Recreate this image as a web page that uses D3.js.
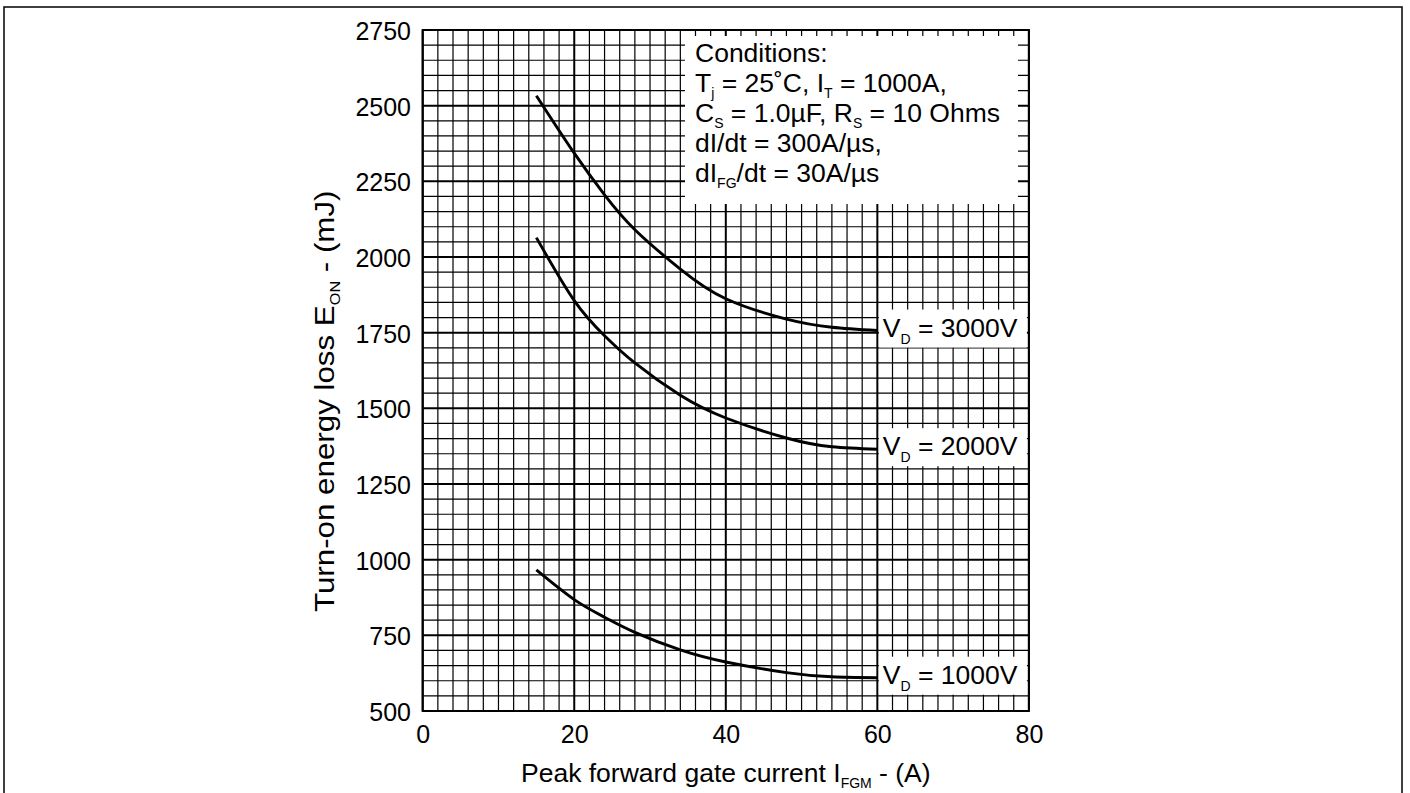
<!DOCTYPE html>
<html>
<head>
<meta charset="utf-8">
<script src="https://cdn.jsdelivr.net/npm/d3@7"></script>
<style>
  html, body { margin: 0; padding: 0; background: #fff; }
  svg { display: block; }
  text { font-family: "Liberation Sans", Arial, Helvetica, sans-serif; fill: #000; }
</style>
</head>
<body>
<svg id="chart" width="1410" height="793"></svg>
<script>
// ---- data ----
const gateCurrent = [15, 20, 24, 28, 34, 40, 48, 54, 60];
const eon3000 = [2533, 2343, 2205, 2090, 1960, 1862, 1795, 1768, 1757];
const eon2000 = [2064, 1856, 1740, 1650, 1543, 1468, 1402, 1373, 1365];
const eon1000 = [966, 868, 810, 760, 702, 662, 627, 613, 610];
const seriesNames = ["3000V", "2000V", "1000V"];
const xTickLabels = [0, 20, 40, 60, 80];
const yTickLabels = [500, 750, 1000, 1250, 1500, 1750, 2000, 2250, 2500, 2750];

const svg = d3.select("#chart");
const L = 422.7, R = 1028.9, T = 30, B = 711;
const x = d3.scaleLinear().domain([0, 80]).range([L, R]);
const y = d3.scaleLinear().domain([500, 2750]).range([B, T]);

// outer frame
svg.append("rect").attr("x", 4).attr("y", 7).attr("width", 1398).attr("height", 800)
  .attr("fill", "none").attr("stroke", "#000").attr("stroke-width", 1.5);

// grid
const g = svg.append("g");
const xMinor = d3.range(0, 80.001, 2);
const yMinor = d3.range(500, 2750.001, 50);
g.selectAll("line.vx").data(xMinor).join("line")
  .attr("x1", d => x(d)).attr("x2", d => x(d)).attr("y1", T).attr("y2", B)
  .attr("stroke", "#000").attr("stroke-width", d => d % 20 === 0 ? 2 : 1.2);
g.selectAll("line.hy").data(yMinor).join("line")
  .attr("x1", L).attr("x2", R).attr("y1", d => y(d)).attr("y2", d => y(d))
  .attr("stroke", "#000").attr("stroke-width", d => d % 250 === 0 ? 2 : 1.2);
svg.append("rect").attr("x", L).attr("y", T).attr("width", R - L).attr("height", B - T)
  .attr("fill", "none").attr("stroke", "#000").attr("stroke-width", 2);

// axes tick labels via d3 axes
const tickFs = 25;
const xAxis = d3.axisBottom(x).tickValues(xTickLabels).tickSize(0).tickPadding(0).tickFormat(d3.format("d"));
const yAxis = d3.axisLeft(y).tickValues(yTickLabels).tickSize(0).tickPadding(0).tickFormat(d3.format("d"));
const gx = svg.append("g").attr("transform", `translate(0,${B})`).call(xAxis);
gx.select(".domain").remove();
gx.attr("font-size", tickFs).attr("font-family", null);
gx.selectAll("text").attr("font-size", tickFs).attr("y", 0).attr("dy", 32);
const gy = svg.append("g").attr("transform", `translate(411,0)`).call(yAxis);
gy.select(".domain").remove();
gy.attr("font-size", tickFs).attr("font-family", null);
gy.selectAll("text").attr("font-size", tickFs).attr("x", 0).attr("dy", "0.38em");

function richText(sel, parts, size, subSize, subDy) {
  let cur = 0;
  parts.forEach(p => {
    const target = p[1] ? subDy : 0;
    sel.append("tspan").attr("font-size", p[1] ? subSize : size)
      .attr("dy", target - cur).text(p[0]);
    cur = target;
  });
}

const fs = 26.5, subFs = 14;

// conditions box
svg.append("rect").attr("x", 685).attr("y", 36).attr("width", 333).attr("height", 168).attr("fill", "#fff");
const condLines = [
  [["Conditions:", false]],
  [["T", false], ["j", true], [" = 25\u02DAC, I", false], ["T", true], [" = 1000A,", false]],
  [["C", false], ["S", true], [" = 1.0\u00B5F, R", false], ["S", true], [" = 10 Ohms", false]],
  [["dI/dt = 300A/\u00B5s,", false]],
  [["dI", false], ["FG", true], ["/dt = 30A/\u00B5s", false]]
];
condLines.forEach((ln, i) => {
  const t = svg.append("text").attr("x", 695).attr("y", 62 + i * 30).attr("font-size", fs);
  richText(t, ln, fs, subFs, 6);
});

// curves
const series = [eon3000, eon2000, eon1000];
const line = d3.line().x(d => x(d[0])).y(d => y(d[1])).curve(d3.curveNatural);
series.forEach((vals, k) => {
  const pts = gateCurrent.map((c, i) => [c, vals[i]]);
  svg.append("path").attr("d", line(pts)).attr("fill", "none")
    .attr("stroke", "#000").attr("stroke-width", 2.9);
  const yEnd = y(vals[vals.length - 1]);
  svg.append("rect").attr("x", x(60) + 1.5).attr("y", yEnd - 21)
    .attr("width", x(80) - x(60) - 3.5).attr("height", 38).attr("fill", "#fff");
  const t = svg.append("text").attr("x", x(60) + 5.5).attr("y", yEnd + 6).attr("font-size", fs);
  richText(t, [["V", false], ["D", true], [" = " + seriesNames[k], false]], fs, subFs, 7);
});

// axis titles
const xt = svg.append("text").attr("x", (L + R) / 2).attr("y", 782).attr("text-anchor", "middle").attr("font-size", fs);
richText(xt, [["Peak forward gate current I", false], ["FGM", true], [" - (A)", false]], fs, subFs, 6);
const yt = svg.append("text").attr("transform", "translate(334,612) rotate(-90) scale(1.16,1)").attr("font-size", 27);
richText(yt, [["Turn-on energy loss E", false], ["ON", true], [" - (mJ)", false]], 27, subFs, 6);
</script>
</body>
</html>
